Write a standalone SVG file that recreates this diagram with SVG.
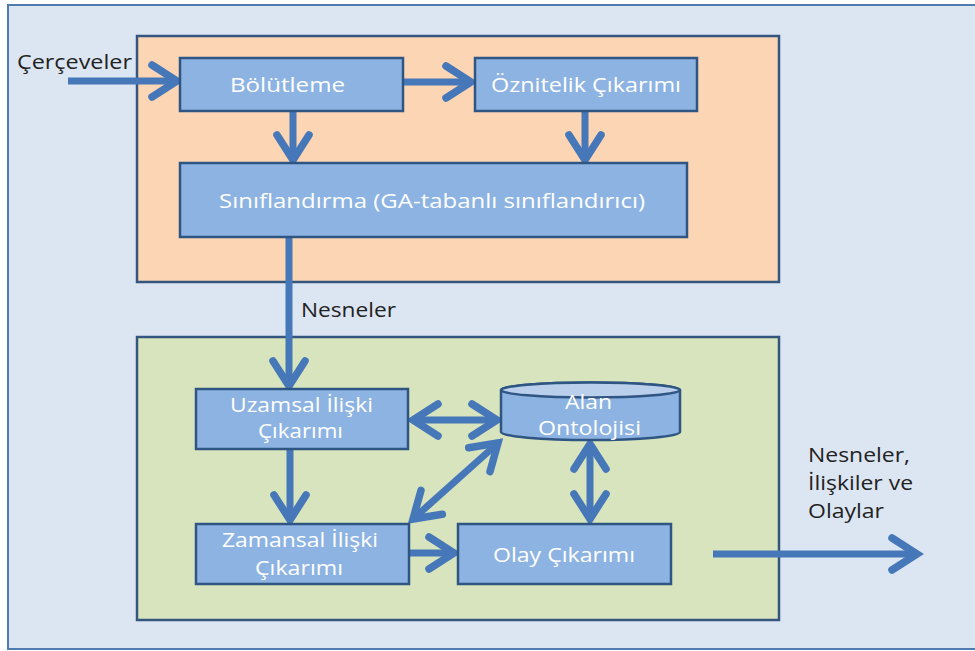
<svg xmlns="http://www.w3.org/2000/svg" width="975" height="651" viewBox="0 0 975 651">
  <defs>
    <style>
      .frame { fill: #dce6f2; stroke: #4f7bb0; stroke-width: 2; }
      .panel { stroke: #34557e; stroke-width: 2.5; }
      .box { fill: #8db3e2; stroke: #2f5583; stroke-width: 2.5; }
      .lbl { font-family: "Open Sans", "Liberation Sans", sans-serif; font-size: 20px; fill: #ffffff; text-anchor: middle; }
      .ext { font-family: "Open Sans", "Liberation Sans", sans-serif; font-size: 20px; fill: #222222; }
      .conn { fill: none; stroke: #4677b8; stroke-width: 7; marker-end: url(#chev); }
      .both { marker-start: url(#chev); }
    </style>
    <marker id="chev" markerUnits="userSpaceOnUse" viewBox="-34 -22 40 44" refX="0" refY="0" markerWidth="40" markerHeight="44" orient="auto-start-reverse" overflow="visible">
      <path d="M-25,-16 L0,0 L-25,16" fill="none" stroke="#4677b8" stroke-width="7.5" stroke-linecap="round" stroke-linejoin="miter"/>
    </marker>
  </defs>

  <!-- outer frame -->
  <rect class="frame" x="8" y="5" width="975" height="644"/>

  <!-- upper stage: segmentation and classification -->
  <rect class="panel" x="137" y="36" width="642" height="246" fill="#fcd5b5"/>
  <!-- lower stage: relation and event extraction -->
  <rect class="panel" x="137" y="337" width="642" height="283" fill="#d7e4bd"/>

  <!-- connectors -->
  <g id="connectors">
    <path class="conn" d="M68,81 H177"/>
    <path class="conn" d="M404,82 H471"/>
    <path class="conn" d="M293,112 V160"/>
    <path class="conn" d="M585,112 V160"/>
    <path class="conn" d="M289,238 V386"/>
    <path class="conn both" d="M413,420 H497"/>
    <path class="conn" d="M290,450 V520"/>
    <path class="conn both" d="M413,519 L498,443"/>
    <path class="conn both" d="M590,444 V519"/>
    <path class="conn" d="M410,553 H454"/>
    <path class="conn" d="M713,554 H917"/>
  </g>

  <!-- free labels -->
  <text class="ext" x="17" y="69" textLength="115" lengthAdjust="spacingAndGlyphs">Çerçeveler</text>
  <text class="ext" x="301" y="317" textLength="95" lengthAdjust="spacingAndGlyphs">Nesneler</text>
  <g id="output-label">
    <text class="ext" x="808" y="462" textLength="102" lengthAdjust="spacingAndGlyphs">Nesneler,</text>
    <text class="ext" x="808" y="490" textLength="105" lengthAdjust="spacingAndGlyphs">İlişkiler ve</text>
    <text class="ext" x="808" y="518" textLength="76" lengthAdjust="spacingAndGlyphs">Olaylar</text>
  </g>

  <g id="bolutleme">
    <rect class="box" x="180" y="58" width="223" height="53"/>
    <text class="lbl" x="287.5" y="92" textLength="115" lengthAdjust="spacingAndGlyphs">Bölütleme</text>
  </g>

  <g id="oznitelik">
    <rect class="box" x="475" y="58" width="222" height="53"/>
    <text class="lbl" x="586" y="92" textLength="190" lengthAdjust="spacingAndGlyphs">Öznitelik Çıkarımı</text>
  </g>

  <g id="siniflandirma">
    <rect class="box" x="180" y="163" width="507" height="74"/>
    <text class="lbl" x="432" y="208" textLength="426" lengthAdjust="spacingAndGlyphs">Sınıflandırma (GA-tabanlı sınıflandırıcı)</text>
  </g>

  <g id="uzamsal">
    <rect class="box" x="196" y="389" width="212" height="60"/>
    <text class="lbl" x="301.5" y="412" textLength="143" lengthAdjust="spacingAndGlyphs">Uzamsal İlişki</text>
    <text class="lbl" x="300.5" y="438" textLength="85" lengthAdjust="spacingAndGlyphs">Çıkarımı</text>
  </g>

  <g id="ontoloji">
    <path d="M501,390 A89.5,7.5 0 0 1 680,390 V432 A89.5,8 0 0 1 501,432 Z" fill="#8db3e2" stroke="#2f5583" stroke-width="2.5"/>
    <ellipse cx="590.5" cy="390" rx="89.5" ry="7.5" fill="#b9cfec" stroke="#2f5583" stroke-width="2.5"/>
    <text class="lbl" x="588.5" y="409" textLength="47" lengthAdjust="spacingAndGlyphs">Alan</text>
    <text class="lbl" x="589.5" y="435" textLength="103" lengthAdjust="spacingAndGlyphs">Ontolojisi</text>
  </g>

  <g id="zamansal">
    <rect class="box" x="196" y="524" width="213" height="60"/>
    <text class="lbl" x="300" y="547" textLength="156" lengthAdjust="spacingAndGlyphs">Zamansal İlişki</text>
    <text class="lbl" x="299" y="575" textLength="88" lengthAdjust="spacingAndGlyphs">Çıkarımı</text>
  </g>

  <g id="olay">
    <rect class="box" x="458" y="524" width="213" height="60"/>
    <text class="lbl" x="564" y="562" textLength="142" lengthAdjust="spacingAndGlyphs">Olay Çıkarımı</text>
  </g>
</svg>
